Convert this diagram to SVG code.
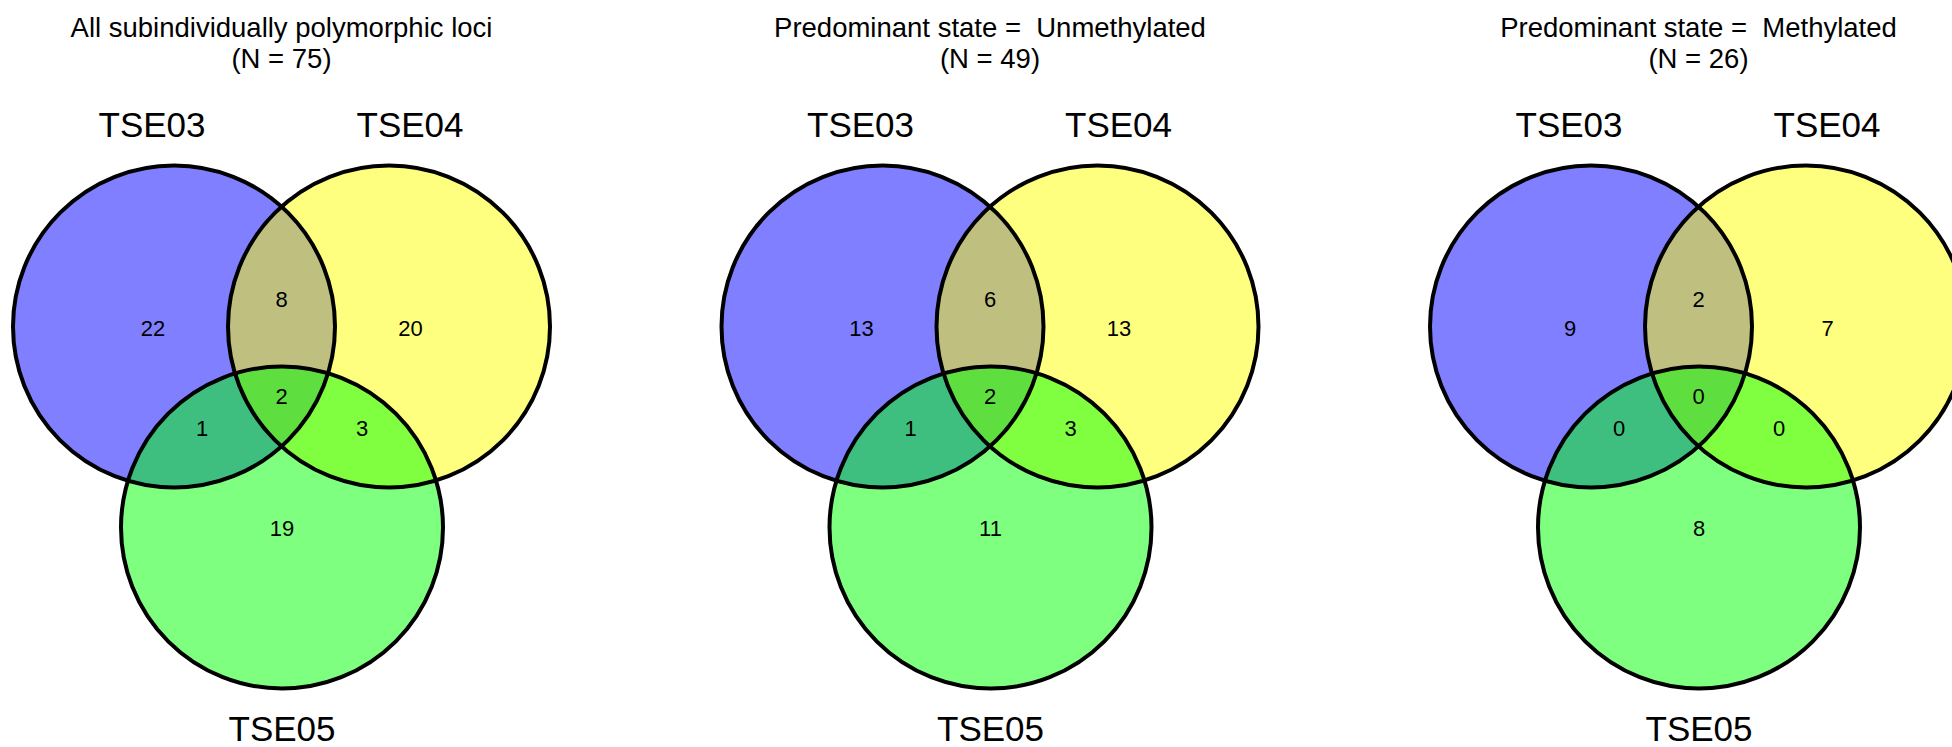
<svg xmlns="http://www.w3.org/2000/svg" xmlns:xlink="http://www.w3.org/1999/xlink" width="1952" height="747" viewBox="0 0 1952 747">
<style>
text{font-family:"Liberation Sans",Arial,Helvetica,sans-serif;fill:#000;text-anchor:middle;white-space:pre}
.title{font-size:27.5px}
.set{font-size:35px}
.num{font-size:22px}
.fa{fill:#0000ff;fill-opacity:0.5}
.fb{fill:#ffff00;fill-opacity:0.5}
.fc{fill:#00ff00;fill-opacity:0.5}
.ol{fill:none;stroke:#000;stroke-width:4}
</style>
<defs>
<circle id="cA" cx="174" cy="326.5" r="161"/>
<circle id="cB" cx="389" cy="326.5" r="161"/>
<circle id="cC" cx="282" cy="527.5" r="161"/>
</defs>
<rect width="1952" height="747" fill="#fff"/>

<g id="panel1">
<text class="title" x="281.5" y="37">All subindividually polymorphic loci</text>
<text class="title" x="281.5" y="68">(N = 75)</text>
<g id="p1-TSE03"><use xlink:href="#cA" class="fa"/><text class="set" x="152" y="137">TSE03</text></g>
<g id="p1-TSE04"><use xlink:href="#cB" class="fb"/><text class="set" x="410" y="137">TSE04</text></g>
<g id="p1-TSE05"><use xlink:href="#cC" class="fc"/><text class="set" x="282" y="741">TSE05</text></g>
<g id="p1-outlines"><use xlink:href="#cA" class="ol"/><use xlink:href="#cB" class="ol"/><use xlink:href="#cC" class="ol"/></g>
<g id="p1-counts">
<text class="num" x="153" y="336">22</text>
<text class="num" x="281.5" y="307">8</text>
<text class="num" x="410.5" y="336">20</text>
<text class="num" x="281.5" y="404">2</text>
<text class="num" x="202" y="436">1</text>
<text class="num" x="362" y="436">3</text>
<text class="num" x="282" y="536">19</text>
</g>
</g>

<g id="panel2" transform="translate(708.5,0)">
<text class="title" x="281.5" y="37" xml:space="preserve">Predominant state =  Unmethylated</text>
<text class="title" x="281.5" y="68">(N = 49)</text>
<g id="p2-TSE03"><use xlink:href="#cA" class="fa"/><text class="set" x="152" y="137">TSE03</text></g>
<g id="p2-TSE04"><use xlink:href="#cB" class="fb"/><text class="set" x="410" y="137">TSE04</text></g>
<g id="p2-TSE05"><use xlink:href="#cC" class="fc"/><text class="set" x="282" y="741">TSE05</text></g>
<g id="p2-outlines"><use xlink:href="#cA" class="ol"/><use xlink:href="#cB" class="ol"/><use xlink:href="#cC" class="ol"/></g>
<g id="p2-counts">
<text class="num" x="153" y="336">13</text>
<text class="num" x="281.5" y="307">6</text>
<text class="num" x="410.5" y="336">13</text>
<text class="num" x="281.5" y="404">2</text>
<text class="num" x="202" y="436">1</text>
<text class="num" x="362" y="436">3</text>
<text class="num" x="282" y="536">11</text>
</g>
</g>

<g id="panel3" transform="translate(1417,0)">
<text class="title" x="281.5" y="37" xml:space="preserve">Predominant state =  Methylated</text>
<text class="title" x="281.5" y="68">(N = 26)</text>
<g id="p3-TSE03"><use xlink:href="#cA" class="fa"/><text class="set" x="152" y="137">TSE03</text></g>
<g id="p3-TSE04"><use xlink:href="#cB" class="fb"/><text class="set" x="410" y="137">TSE04</text></g>
<g id="p3-TSE05"><use xlink:href="#cC" class="fc"/><text class="set" x="282" y="741">TSE05</text></g>
<g id="p3-outlines"><use xlink:href="#cA" class="ol"/><use xlink:href="#cB" class="ol"/><use xlink:href="#cC" class="ol"/></g>
<g id="p3-counts">
<text class="num" x="153" y="336">9</text>
<text class="num" x="281.5" y="307">2</text>
<text class="num" x="410.5" y="336">7</text>
<text class="num" x="281.5" y="404">0</text>
<text class="num" x="202" y="436">0</text>
<text class="num" x="362" y="436">0</text>
<text class="num" x="282" y="536">8</text>
</g>
</g>
<g id="connectors"/>
</svg>
